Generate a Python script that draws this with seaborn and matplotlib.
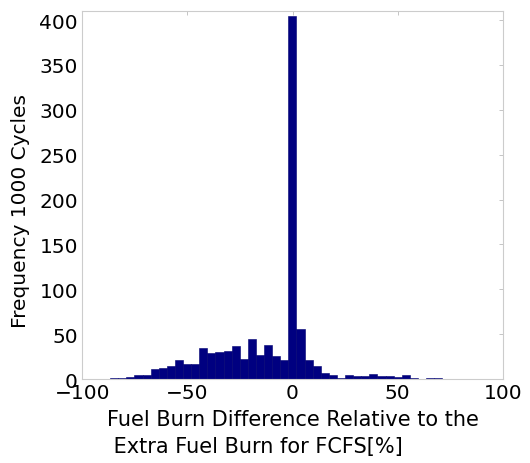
import numpy as np
import pandas as pd
import matplotlib
matplotlib.use("Agg")
import matplotlib.pyplot as plt
import seaborn as sns

# --- DATA ---
BIN_LO = -86.7
BIN_WIDTH = 3.85
bin_centers = [-84.8, -80.9, -77.1, -73.2, -69.4, -65.5, -61.7, -57.8, -54.0, -50.1,
               -46.3, -42.4, -38.6, -34.7, -30.9, -27.0, -23.2, -19.3, -15.5, -11.6,
               -7.8, -3.9, -0.1, 3.8, 7.6, 11.5, 15.3, 19.2, 23.0, 26.9,
               30.7, 34.6, 38.4, 42.3, 46.1, 50.0, 53.8, 57.7, 61.5, 65.4, 69.2]
counts = [1, 1, 2, 4, 4, 11, 12, 14, 21, 17,
          17, 35, 29, 30, 31, 37, 22, 45, 27, 38,
          26, 21, 405, 56, 21, 15, 7, 5, 1, 5,
          3, 3, 6, 3, 3, 2, 4, 1, 0, 1, 1]

x_ticks = [-100, -50, 0, 50, 100]
y_ticks = [0, 50, 100, 150, 200, 250, 300, 350, 400]

df = pd.DataFrame({"diff": bin_centers, "n": counts})

sns.set_style("white")
plt.rcParams['font.family'] = ['DejaVu Sans']
plt.rcParams['text.color'] = 'black'
plt.rcParams['axes.labelcolor'] = 'black'

fig = plt.figure(figsize=(5.30, 4.64), dpi=100)
ax = fig.add_axes([0.155, 0.181, 0.794, 0.793])

sns.histplot(data=df, x="diff", weights="n", binwidth=BIN_WIDTH,
             binrange=(BIN_LO, BIN_LO + BIN_WIDTH * len(counts)),
             color="#000080", edgecolor="#000070", linewidth=0.4,
             alpha=1.0, ax=ax)

ax.set_xlim(-100, 100)
ax.set_ylim(0, 410)
ax.set_xticks(x_ticks)
ax.set_yticks(y_ticks)
ax.tick_params(direction="in", length=3, width=0.6, color="#bbbbbb",
               labelcolor="black", labelsize=14.5, top=True, right=True, pad=3)
for s in ax.spines.values():
    s.set_color("#cccccc")
    s.set_linewidth(0.8)

ax.set_xlabel("Fuel Burn Difference Relative to the\n Extra Fuel Burn for FCFS[%]",
              fontsize=15, multialignment="left", labelpad=5, linespacing=1.4)
ax.set_ylabel("Frequency 1000 Cycles", fontsize=14.5)
ax.yaxis.set_label_coords(-0.125, 0.46)

fig.savefig("out.png", dpi=100, facecolor="white")
